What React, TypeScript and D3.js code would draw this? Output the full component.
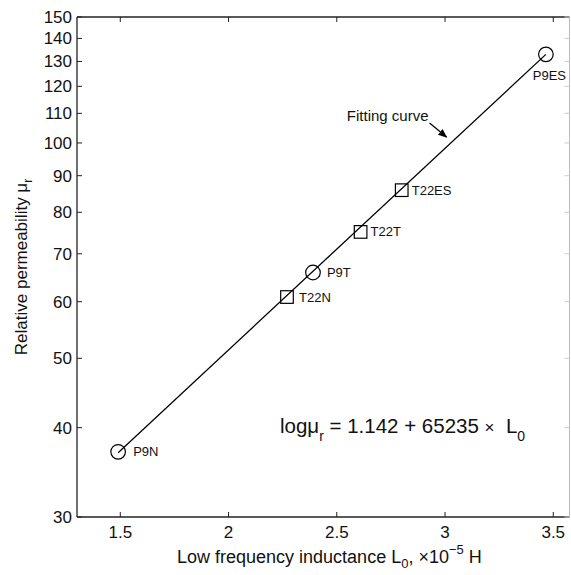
import React from "react";
import * as d3 from "d3";

const sampleNames = ["P9N", "T22N", "P9T", "T22T", "T22ES", "P9ES"];
const inductance = [1.49, 2.27, 2.39, 2.61, 2.8, 3.466];
const permeability = [37.0, 60.9, 65.9, 75.1, 85.9, 133];
const markerKind = ["circle", "square", "circle", "square", "square", "circle"];

const fitX = [1.49, 3.466];
const fitY = [36.9, 133];

const xTicks = [1.5, 2, 2.5, 3, 3.5];
const yTicks = [30, 40, 50, 60, 70, 80, 90, 100, 110, 120, 130, 140, 150];

const W = 571;
const H = 575;
const M = { left: 77, top: 17, right: 569.5, bottom: 517 };
const FONT = "'Liberation Sans', Arial, Helvetica, sans-serif";

const labelOffset: Record<string, [number, number, string]> = {
  P9N: [15, 4.5, "start"],
  T22N: [12, 4.5, "start"],
  P9T: [14, 4.5, "start"],
  T22T: [10, 4.5, "start"],
  T22ES: [10, 4.5, "start"],
  P9ES: [3.5, 26, "middle"],
};

export default function App() {
  const x = d3.scaleLinear().domain([1.3, 3.575]).range([M.left, M.right]);
  const y = d3.scaleLog().domain([30, 150]).range([M.bottom, M.top]);

  const line = d3
    .line<number>()
    .x((_, i) => x(fitX[i]))
    .y((_, i) => y(fitY[i]));

  const tipX = x(3.007);
  const tipY = y(101.9);

  return (
    <svg
      width={W}
      height={H}
      style={{ position: "absolute", left: 0, top: 0, background: "#fff" }}
      fontFamily={FONT}
    >
      <defs>
        <marker id="arr" viewBox="0 0 10 10" refX="9" refY="5" markerWidth="7" markerHeight="7" orient="auto">
          <path d="M0,1 L10,5 L0,9 z" fill="#000" />
        </marker>
      </defs>
      <rect x={0} y={0} width={W} height={H} fill="#fff" />

      {/* axes box */}
      <line x1={M.left} y1={M.bottom} x2={M.right} y2={M.bottom} stroke="#222" strokeWidth={1.3} />
      <line x1={M.left} y1={M.top} x2={M.right} y2={M.top} stroke="#222" strokeWidth={1.3} />
      <line x1={M.left} y1={M.top} x2={M.left} y2={M.bottom} stroke="#222" strokeWidth={1.3} />
      <line x1={M.right} y1={M.top} x2={M.right} y2={M.bottom} stroke="#bbb" strokeWidth={1} />

      {/* x ticks */}
      {xTicks.map((t) => (
        <g key={"x" + t}>
          <line x1={x(t)} x2={x(t)} y1={M.bottom} y2={M.bottom - 5} stroke="#222" />
          <line x1={x(t)} x2={x(t)} y1={M.top} y2={M.top + 5} stroke="#222" />
          <text x={x(t)} y={M.bottom + 21} textAnchor="middle" fontSize={17} fill="#111">
            {String(t)}
          </text>
        </g>
      ))}

      {/* y ticks */}
      {yTicks.map((t) => (
        <g key={"y" + t}>
          <line x1={M.left} x2={M.left + 5} y1={y(t)} y2={y(t)} stroke="#222" />
          <line x1={M.right} x2={M.right - 5} y1={y(t)} y2={y(t)} stroke="#ccc" />
          <text x={M.left - 5} y={y(t) + 6} textAnchor="end" fontSize={17} fill="#111">
            {String(t)}
          </text>
        </g>
      ))}

      {/* fit line */}
      <path d={line(fitX) || ""} fill="none" stroke="#000" strokeWidth={1.3} />

      {/* markers */}
      {sampleNames.map((n, i) => {
        const cx = x(inductance[i]);
        const cy = y(permeability[i]);
        const [dx, dy, anchor] = labelOffset[n];
        return (
          <g key={n}>
            {markerKind[i] === "circle" ? (
              <circle cx={cx} cy={cy} r={7.3} fill="none" stroke="#000" strokeWidth={1.2} />
            ) : (
              <rect x={cx - 6.3} y={cy - 6.3} width={12.6} height={12.6} fill="none" stroke="#000" strokeWidth={1.2} />
            )}
            <text x={cx + dx} y={cy + dy} textAnchor={anchor} fontSize={13} fill="#111">
              {n}
            </text>
          </g>
        );
      })}

      {/* annotation */}
      <line x1={tipX - 17} y1={tipY - 14} x2={tipX} y2={tipY} stroke="#000" strokeWidth={1.3} markerEnd="url(#arr)" />
      <text x={tipX - 18} y={tipY - 16} textAnchor="end" fontSize={15} fill="#111">
        Fitting curve
      </text>

      <text x={280} y={433} fontSize={20.5} fill="#111" style={{ whiteSpace: "pre" }}>
        logμ
        <tspan fontSize={14} dy={8}>r</tspan>
        <tspan dy={-8}>{" = 1.142 + 65235 "}</tspan>
        <tspan fontSize={17}>×</tspan>
        <tspan>{"  L"}</tspan>
        <tspan fontSize={14} dy={8}>0</tspan>
      </text>

      {/* axis labels */}
      <text x={177} y={563} fontSize={18} fill="#111">
        Low frequency inductance L
        <tspan fontSize={13} dy={5}>0</tspan>
        <tspan dy={-5}>, ×10</tspan>
        <tspan fontSize={13} dy={-9}>−5</tspan>
        <tspan dy={9}> H</tspan>
      </text>

      <text transform={`translate(27,${(M.top + M.bottom) / 2}) rotate(-90)`} textAnchor="middle" fontSize={17} fill="#111">
        Relative permeability μ
        <tspan fontSize={12} dy={5}>r</tspan>
      </text>
    </svg>
  );
}
